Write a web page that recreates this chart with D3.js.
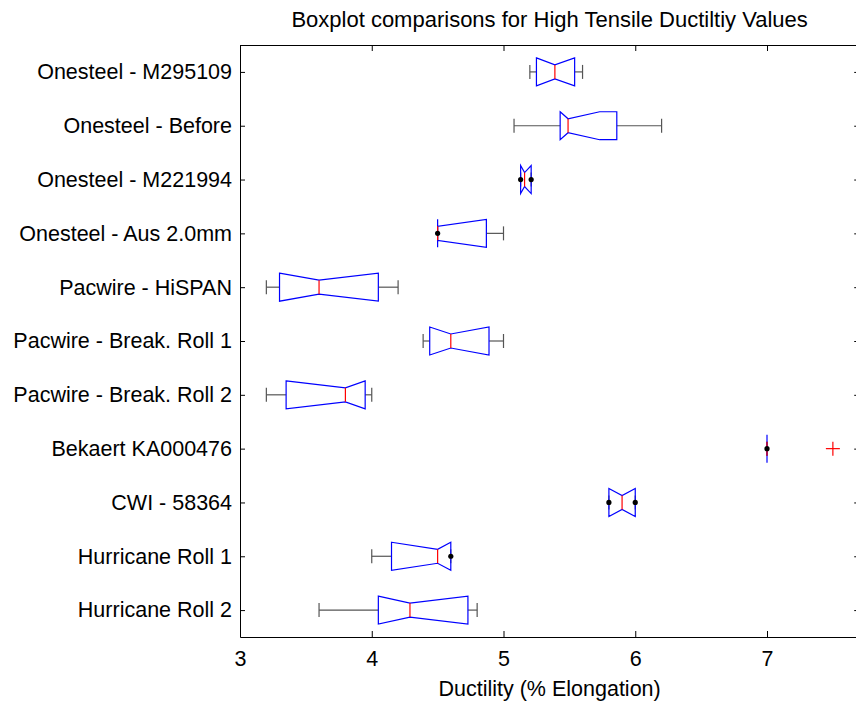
<!DOCTYPE html>
<html>
<head>
<meta charset="utf-8">
<script src="https://cdn.jsdelivr.net/npm/d3@7"></script>
<style>
  body { margin: 0; background: #fff; }
  svg { display: block; }
  text { font-family: "Liberation Sans", Arial, Helvetica, sans-serif; fill: #000; }
</style>
</head>
<body>
<svg width="856" height="704"></svg>
<script>
// categories, top to bottom
const categories = [
  "Onesteel - M295109",
  "Onesteel - Before",
  "Onesteel - M221994",
  "Onesteel - Aus 2.0mm",
  "Pacwire - HiSPAN",
  "Pacwire - Break. Roll 1",
  "Pacwire - Break. Roll 2",
  "Bekaert KA000476",
  "CWI - 58364",
  "Hurricane Roll 1",
  "Hurricane Roll 2"
];

// box statistics
const whiskerLow  = [5.20, 5.08, 5.13, 4.50, 3.20, 4.39, 3.20, 7.00, 5.80, 4.00, 3.60];
const q1          = [5.25, 5.43, 5.13, 4.50, 3.30, 4.44, 3.35, 7.00, 5.80, 4.15, 4.05];
const median      = [5.39, 5.49, 5.16, 4.50, 3.60, 4.60, 3.80, 7.00, 5.90, 4.50, 4.29];
const q3          = [5.54, 5.86, 5.21, 4.87, 4.05, 4.89, 3.95, 7.00, 6.00, 4.60, 4.73];
const whiskerHigh = [5.60, 6.20, 5.21, 5.00, 4.20, 5.00, 4.00, 7.00, 6.00, 4.60, 4.80];
const notchLow    = [5.10, 5.25, 5.05, 4.20, 3.10, 4.30, 3.30, 7.00, 5.70, 4.10, 3.90];
const notchHigh   = [5.70, 5.73, 5.27, 4.90, 4.10, 4.95, 4.30, 7.00, 6.10, 4.90, 4.75];

// extra points drawn as black dots, and red "+" outliers
const dots = [
  { cat: "Onesteel - M221994", value: 5.13 },
  { cat: "Onesteel - M221994", value: 5.21 },
  { cat: "Onesteel - Aus 2.0mm", value: 4.50 },
  { cat: "Bekaert KA000476", value: 7.00 },
  { cat: "CWI - 58364", value: 5.80 },
  { cat: "CWI - 58364", value: 6.00 },
  { cat: "Hurricane Roll 1", value: 4.60 }
];
const outliers = [
  { cat: "Bekaert KA000476", value: 7.50 }
];

const xTicks = [3, 4, 5, 6, 7];
const xDomain = [3, 7.7];

const title = "Boxplot comparisons for High Tensile Ductiltiy Values";
const xLabel = "Ductility (% Elongation)";

const margin = {top: 45, left: 240, bottom: 67};
const svg = d3.select("svg");
const width = 856, height = 704;
const plotRight = 240 + (xDomain[1] - xDomain[0]) * 131.75;

const x = d3.scaleLinear().domain(xDomain).range([margin.left, plotRight]);
const y = d3.scalePoint().domain(categories).range([margin.top, height - margin.bottom]).padding(0.5);

const half = y.step() * 0.26;   // half box height
const inner = half * 0.5;       // notch waist
const cap = half * 0.5;         // whisker cap half height

const rows = categories.map((c, i) => ({
  cat: c, lo: whiskerLow[i], q1: q1[i], med: median[i], q3: q3[i], hi: whiskerHigh[i],
  nlo: Math.max(notchLow[i], q1[i]), nhi: Math.min(notchHigh[i], q3[i])
}));

// axes
const fs = "21.5px";
svg.append("g")
  .attr("transform", `translate(0,${height - margin.bottom})`)
  .call(d3.axisBottom(x).tickValues(xTicks).tickFormat(d3.format("d")).tickSizeInner(-6).tickSizeOuter(0).tickPadding(14))
  .call(g => g.selectAll("text").attr("font-size", fs));
svg.append("g")
  .attr("transform", `translate(0,${margin.top})`)
  .call(d3.axisTop(x).tickValues(xTicks).tickSizeInner(-6).tickSizeOuter(0).tickFormat(""));
svg.append("g")
  .attr("transform", `translate(${margin.left},0)`)
  .call(d3.axisLeft(y).tickSizeInner(-5).tickSizeOuter(0).tickPadding(8))
  .call(g => g.selectAll("text").attr("font-size", fs));
svg.append("g")
  .attr("transform", `translate(${plotRight},0)`)
  .call(d3.axisRight(y).tickSizeInner(-5).tickSizeOuter(0).tickFormat(""));
svg.selectAll(".domain, .tick line").attr("stroke", "#000");

const plot = svg.append("g");

// whiskers
const wh = plot.selectAll(".whisk").data(rows).join("g").attr("stroke", "#555").attr("stroke-width", 1.2);
wh.append("line")
  .attr("x1", d => x(d.lo)).attr("x2", d => x(d.q1))
  .attr("y1", d => y(d.cat)).attr("y2", d => y(d.cat));
wh.append("line")
  .attr("x1", d => x(d.q3)).attr("x2", d => x(d.hi))
  .attr("y1", d => y(d.cat)).attr("y2", d => y(d.cat));
wh.append("line")
  .attr("x1", d => x(d.lo)).attr("x2", d => x(d.lo))
  .attr("y1", d => y(d.cat) - cap).attr("y2", d => y(d.cat) + cap);
wh.append("line")
  .attr("x1", d => x(d.hi)).attr("x2", d => x(d.hi))
  .attr("y1", d => y(d.cat) - cap).attr("y2", d => y(d.cat) + cap);

// notched boxes
const boxPath = d => {
  const c = y(d.cat);
  const pts = [
    [x(d.q1), c - half], [x(d.nlo), c - half], [x(d.med), c - inner], [x(d.nhi), c - half], [x(d.q3), c - half],
    [x(d.q3), c + half], [x(d.nhi), c + half], [x(d.med), c + inner], [x(d.nlo), c + half], [x(d.q1), c + half]
  ];
  return d3.line()(pts) + "Z";
};
plot.selectAll(".box").data(rows).join("path")
  .attr("d", boxPath)
  .attr("fill", "none")
  .attr("stroke", "#0000ff")
  .attr("stroke-width", 1.2);

// medians
plot.selectAll(".med").data(rows).join("line")
  .attr("x1", d => x(d.med)).attr("x2", d => x(d.med))
  .attr("y1", d => y(d.cat) - inner).attr("y2", d => y(d.cat) + inner)
  .attr("stroke", "#ff0000")
  .attr("stroke-width", 1.2);

// dots
plot.selectAll(".dot").data(dots).join("circle")
  .attr("cx", d => x(d.value)).attr("cy", d => y(d.cat))
  .attr("r", 2.6)
  .attr("fill", "#000");

// outliers
const out = plot.selectAll(".out").data(outliers).join("g").attr("stroke", "#ff0000").attr("stroke-width", 1.2);
out.append("line")
  .attr("x1", d => x(d.value) - 7).attr("x2", d => x(d.value) + 7)
  .attr("y1", d => y(d.cat)).attr("y2", d => y(d.cat));
out.append("line")
  .attr("x1", d => x(d.value)).attr("x2", d => x(d.value))
  .attr("y1", d => y(d.cat) - 7).attr("y2", d => y(d.cat) + 7);

// title and x label
svg.append("text")
  .attr("x", (margin.left + plotRight) / 2).attr("y", 27)
  .attr("text-anchor", "middle")
  .attr("font-size", "22px")
  .text(title);
svg.append("text")
  .attr("x", (margin.left + plotRight) / 2).attr("y", 696)
  .attr("text-anchor", "middle")
  .attr("font-size", fs)
  .text(xLabel);
</script>
</body>
</html>
